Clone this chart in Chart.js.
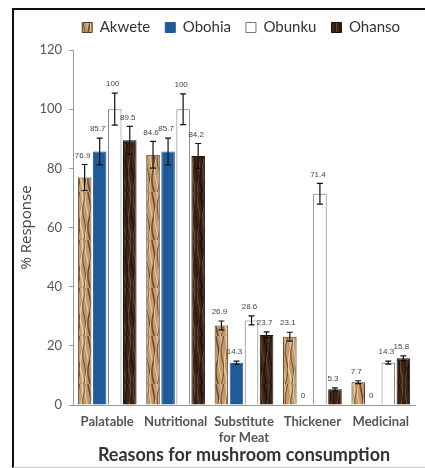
<!DOCTYPE html>
<html>
<head>
<meta charset="utf-8">
<script src="https://cdn.jsdelivr.net/npm/chart.js@4.4.1/dist/chart.umd.min.js"></script>
<style>
    body { margin: 0; background: #fff; }
    #wrap { position: relative; width: 425px; height: 468px; }
    #frame {
        position: absolute; left: 12px; top: 8px; right: 0; bottom: 0;
        border-left: 2px solid #111; border-top: 2px solid #111;
        border-bottom: 1px solid #ccc;
    }
    canvas { position: absolute; left: 0; top: 0; }
</style>
</head>
<body>
<div id="wrap">
    <div id="frame"></div>
    <canvas id="myChart" width="425" height="468"></canvas>
</div>
<script>
const categories = ["Palatable", "Nutritional", ["Substitute", "for Meat"], "Thickener", "Medicinal"];
const seriesNames = ["Akwete", "Obohia", "Obunku", "Ohanso"];

const akwete = [76.9, 84.6, 26.9, 23.1, 7.7];
const obohia = [85.7, 85.7, 14.3, 0, 0];
const obunku = [100, 100, 28.6, 71.4, 14.3];
const ohanso = [89.5, 84.2, 23.7, 5.3, 15.8];

// error bar half-lengths
const akweteErr = [4.4, 4.5, 1.5, 1.5, 0.5];
const obohiaErr = [4.5, 4.5, 0.5, 0, 0];
const obunkuErr = [5.4, 5.2, 1.5, 3.5, 0.5];
const ohansoErr = [4.7, 4.2, 1.0, 0.5, 0.8];

const yTicks = [0, 20, 40, 60, 80, 100, 120];

// wood-like texture for the patterned bars
let woodPattern = (base, dark, light) => {
    const c = document.createElement("canvas");
    c.width = 16;
    c.height = 48;
    const g = c.getContext("2d");
    g.fillStyle = base;
    g.fillRect(0, 0, c.width, c.height);
    for (let k = 0; k < 6; k++) {
        g.strokeStyle = k % 2 ? dark : light;
        g.lineWidth = k % 3 === 0 ? 1.6 : 1;
        g.beginPath();
        for (let y = 0; y <= c.height; y += 2) {
            const x = 1.5 + k * 2.6 + Math.sin(y / 6 + k * 1.7) * 1.4;
            if (y === 0) g.moveTo(x, y); else g.lineTo(x, y);
        }
        g.stroke();
    }
    return g.createPattern(c, "repeat");
};

const ctx = document.getElementById("myChart");
const akwetePattern = woodPattern("#c29a6c", "#6e4a2c", "#e6cfa8");
const ohansoPattern = woodPattern("#3b2418", "#1c110b", "#6a4630");

const errors = [akweteErr, obohiaErr, obunkuErr, ohansoErr];

const errorBars = {
    id: "errorBars",
    afterDatasetsDraw(chart) {
        const g = chart.ctx;
        const y = chart.scales.y;
        g.save();
        chart.data.datasets.forEach((ds, i) => {
            const meta = chart.getDatasetMeta(i);
            meta.data.forEach((bar, j) => {
                const v = ds.data[j];
                const e = errors[i][j];
                if (e > 0) {
                    const top = y.getPixelForValue(v + e);
                    const bot = y.getPixelForValue(v - e);
                    g.strokeStyle = "#111";
                    g.lineWidth = 1.2;
                    g.beginPath();
                    g.moveTo(bar.x, top); g.lineTo(bar.x, bot);
                    g.moveTo(bar.x - 3, top); g.lineTo(bar.x + 3, top);
                    g.moveTo(bar.x - 3, bot); g.lineTo(bar.x + 3, bot);
                    g.stroke();
                }
                // value label
                g.fillStyle = "#444";
                g.font = "8px 'Liberation Sans'";
                g.textAlign = "center";
                g.textBaseline = "bottom";
                g.fillText(String(v), bar.x - 2, y.getPixelForValue(v + e) - 5);
            });
        });
        g.restore();
    }
};

// fixed legend height so the plot starts where the original does
const legendSpace = {
    id: "legendSpace",
    beforeInit(chart) {
        const fit = chart.legend.fit;
        chart.legend.fit = function () {
            fit.call(this);
            this.height = 45;
        };
    }
};

const font = "Lato";

const myChart = new Chart(ctx, {
    type: "bar",
    data: {
        labels: categories,
        datasets: [
            { label: seriesNames[0], data: akwete, backgroundColor: akwetePattern, borderColor: "#5a3c22", borderWidth: 1 },
            { label: seriesNames[1], data: obohia, backgroundColor: "#1f5b98", borderColor: "#1f5b98", borderWidth: 1 },
            { label: seriesNames[2], data: obunku, backgroundColor: "#ffffff", borderColor: "#777", borderWidth: 1 },
            { label: seriesNames[3], data: ohanso, backgroundColor: ohansoPattern, borderColor: "#1c110b", borderWidth: 1 }
        ]
    },
    options: {
        responsive: false,
        animation: false,
        datasets: {
            bar: { categoryPercentage: 0.88, barPercentage: 0.9 }
        },
        layout: { padding: { top: 5, right: 10, left: 18, bottom: 0 } },
        scales: {
            x: {
                afterFit: (scale) => { scale.height = 63; },
                grid: { display: false, drawTicks: false },
                border: { color: "#999" },
                ticks: { color: "#555", font: { family: font, size: 13, weight: "bold" }, padding: 9, maxRotation: 0, autoSkip: false },
                title: { display: true, text: "Reasons for mushroom consumption", color: "#333", font: { family: font, size: 18, weight: "bold" }, padding: { top: 0, bottom: 2 } }
            },
            y: {
                min: 0,
                max: 120,
                afterBuildTicks: (scale) => { scale.ticks = yTicks.map(v => ({ value: v })); },
                afterFit: (scale) => { scale.width = 55; },
                grid: { display: true, drawOnChartArea: false, tickLength: 4, color: "#999" },
                border: { color: "#999" },
                ticks: { color: "#555", font: { family: font, size: 13 }, padding: 7 },
                title: { display: true, text: "% Response", color: "#444", font: { family: "Open Sans", size: 15 }, padding: 0 }
            }
        },
        plugins: {
            legend: {
                position: "top",
                align: "end",
                labels: { boxWidth: 10, boxHeight: 10, color: "#333", font: { family: font, size: 15 }, padding: 15 }
            },
            tooltip: { enabled: false }
        }
    },
    plugins: [errorBars, legendSpace]
});
</script>
</body>
</html>
